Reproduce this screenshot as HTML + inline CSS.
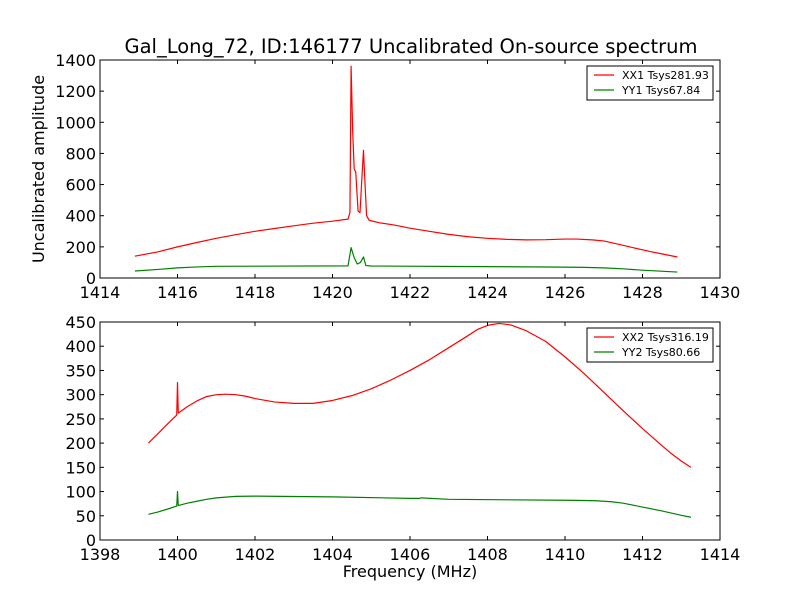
<!DOCTYPE html>
<html><head><meta charset="utf-8"><style>
html,body{margin:0;padding:0;background:#fff;}
svg{display:block;font-family:"DejaVu Sans","Liberation Sans",sans-serif;}
</style></head><body>
<svg id="chart" width="800" height="600" xmlns="http://www.w3.org/2000/svg">
<rect width="800" height="600" fill="#fff"/>
<text x="411" y="53" font-size="19.5" text-anchor="middle">Gal_Long_72, ID:146177 Uncalibrated On-source spectrum</text>
<text transform="translate(44,169) rotate(-90)" font-size="16" text-anchor="middle">Uncalibrated amplitude</text>
<text x="410" y="577" font-size="16" text-anchor="middle">Frequency (MHz)</text>
<g id="p1"></g><g id="p2"></g>
</svg>
<script>
const topFreqXX = [1414.9,1415.5,1416,1416.5,1417,1417.5,1418,1418.5,1419,1419.5,1420,1420.4,1420.45,1420.48,1420.52,1420.56,1420.6,1420.66,1420.71,1420.76,1420.8,1420.84,1420.88,1420.95,1421.2,1421.6,1422,1422.5,1423,1423.5,1424,1424.5,1425,1425.5,1426,1426.3,1426.7,1427,1427.5,1427.8,1428.2,1428.5,1428.9];
const topValXX = [140,168,200,228,255,278,300,318,335,352,365,378,420,1360,950,700,680,430,420,650,820,600,400,370,355,340,320,300,280,265,255,248,245,246,250,250,245,238,210,192,170,155,135];
const topFreqYY = [1414.9,1415.5,1416,1416.5,1417,1420.4,1420.48,1420.56,1420.64,1420.72,1420.8,1420.86,1421,1426,1426.5,1427,1427.5,1428,1428.9];
const topValYY = [45,55,65,71,75,78,195,130,90,100,135,80,77,70,68,65,59,50,38];
const botFreqXX = [1399.25,1399.5,1399.75,1399.98,1400,1400.02,1400.25,1400.5,1400.75,1401,1401.25,1401.5,1401.75,1402,1402.5,1403,1403.5,1404,1404.5,1405,1405.5,1406,1406.5,1407,1407.5,1407.75,1408,1408.3,1408.6,1409,1409.5,1410,1410.5,1411,1411.5,1412,1412.5,1412.75,1413,1413.25];
const botValXX = [200,220,240,258,325,262,275,287,296,300,301,300,297,292,285,282,282,288,298,312,330,350,372,397,422,435,443,447,444,432,410,378,343,305,267,230,195,178,163,150];
const botFreqYY = [1399.25,1399.5,1399.75,1399.98,1400,1400.02,1400.25,1400.5,1400.75,1401,1401.5,1402,1404,1406,1406.25,1406.3,1407,1410,1410.5,1410.8,1411.2,1411.5,1412,1412.5,1413,1413.25];
const botValYY = [53,58,64,70,100,71,76,80,84,87,90,90.5,89,86,86,87,84,82,81.5,81,79,76,68,60,51,47];
const topXTicks = [1414,1416,1418,1420,1422,1424,1426,1428,1430];
const topYTicks = [0,200,400,600,800,1000,1200,1400];
const botXTicks = [1398,1400,1402,1404,1406,1408,1410,1412,1414];
const botYTicks = [0,50,100,150,200,250,300,350,400,450];
const legendTop = ["XX1 Tsys281.93","YY1 Tsys67.84"];
const legendBot = ["XX2 Tsys316.19","YY2 Tsys80.66"];
const NS="http://www.w3.org/2000/svg";
function mk(tag,attrs,parent){const e=document.createElementNS(NS,tag);for(const k in attrs)e.setAttribute(k,attrs[k]);parent.appendChild(e);return e;}
function panel(g,x0,x1,y0,y1,xmin,xmax,ymin,ymax,xt,yt,series,legend,prefix){
  const sx=v=>x0+(v-xmin)/(xmax-xmin)*(x1-x0);
  const sy=v=>y1-(v-ymin)/(ymax-ymin)*(y1-y0);
  series.forEach((s,i)=>{
    const d=s.f.map((f,j)=>(j?'L':'M')+sx(f).toFixed(2)+','+sy(s.v[j]).toFixed(2)).join('');
    const p=mk('path',{d:d,fill:'none',stroke:s.c,'stroke-width':1.2,'stroke-linejoin':'round'},g);
    
    
  });
  const fr=mk('rect',{x:x0,y:y0,width:x1-x0,height:y1-y0,fill:'none',stroke:'#000','stroke-width':1},g);
  
  
  xt.forEach(t=>{
    const x=sx(t);
    mk('line',{x1:x,x2:x,y1:y1,y2:y1-4,stroke:'#000'},g);
    mk('line',{x1:x,x2:x,y1:y0,y2:y0+4,stroke:'#000'},g);
    const tx=mk('text',{x:x,y:y1+20,'font-size':16,'text-anchor':'middle'},g);
    tx.textContent=t;
    
    
  });
  yt.forEach(t=>{
    const y=sy(t);
    mk('line',{x1:x0,x2:x0+4,y1:y,y2:y,stroke:'#000'},g);
    mk('line',{x1:x1,x2:x1-4,y1:y,y2:y,stroke:'#000'},g);
    const tx=mk('text',{x:x0-4,y:y+6,'font-size':16,'text-anchor':'end'},g);
    tx.textContent=t;
    
    
  });
  const lg=mk('g',{},g);
  
  
  mk('rect',{x:x1-133,y:y0+6,width:126,height:34,fill:'#fff',stroke:'#000'},lg);
  legend.forEach((l,i)=>{
    const y=y0+15+i*15;
    mk('line',{x1:x1-126,x2:x1-106,y1:y,y2:y,stroke:series[i].c,'stroke-width':1.2},lg);
    const tx=mk('text',{x:x1-98,y:y+4,'font-size':11},lg);
    tx.textContent=l;
    
    
  });
}
panel(document.getElementById('p1'),100,720,60,278,1414,1430,0,1400,topXTicks,topYTicks,
 [{f:topFreqXX,v:topValXX,c:'#ff0000'},{f:topFreqYY,v:topValYY,c:'#008000'}],legendTop,'top');
panel(document.getElementById('p2'),100,720,322,540,1398,1414,0,450,botXTicks,botYTicks,
 [{f:botFreqXX,v:botValXX,c:'#ff0000'},{f:botFreqYY,v:botValYY,c:'#008000'}],legendBot,'bottom');
</script>
</body></html>
